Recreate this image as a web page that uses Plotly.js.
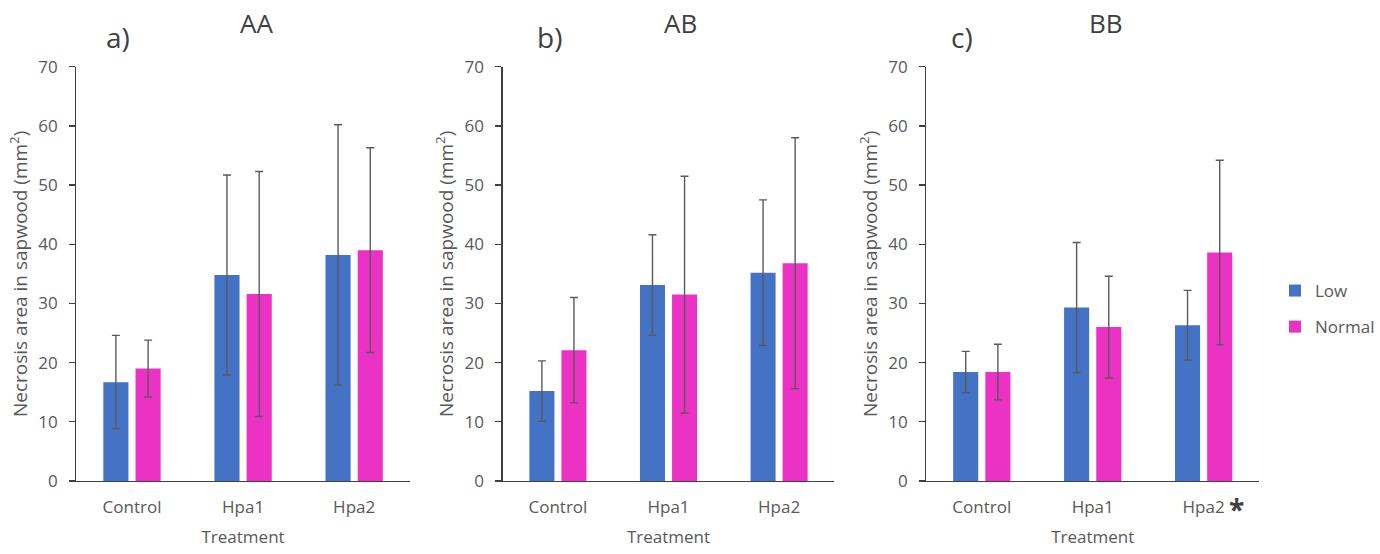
<!DOCTYPE html>
<html>
<head>
<meta charset="utf-8">
<script src="https://cdn.plot.ly/plotly-3.0.1.min.js"></script>
<style>html,body{margin:0;padding:0;background:#fff;}#chart{width:1380px;height:554px;}</style>
</head>
<body>
<div id="chart"></div>
<script>
const categories = ['Control', 'Hpa1', 'Hpa2'];
const seriesNames = ['Low', 'Normal'];
const panelTitles = ['AA', 'AB', 'BB'];
const panelLetters = ['a)', 'b)', 'c)'];

const aaLow = [16.7, 34.8, 38.2];
const aaLowErr = [7.9, 16.9, 22.0];
const aaNormal = [19.0, 31.6, 39.0];
const aaNormalErr = [4.8, 20.7, 17.3];

const abLow = [15.2, 33.1, 35.2];
const abLowErr = [5.1, 8.5, 12.3];
const abNormal = [22.1, 31.5, 36.8];
const abNormalErr = [8.9, 20.0, 21.2];

const bbLow = [18.4, 29.3, 26.3];
const bbLowErr = [3.5, 11.0, 5.9];
const bbNormal = [18.4, 26.0, 38.6];
const bbNormalErr = [4.7, 8.6, 15.6];

const yTicks = [0, 10, 20, 30, 40, 50, 60, 70];

const lowColor = '#4472C4';
const normalColor = '#EC32C4';
const textGray = '#595959';
const FONT = 'Open Sans, Noto Sans, sans-serif';

const panels = [
  {low: aaLow, lowErr: aaLowErr, normal: aaNormal, normalErr: aaNormalErr},
  {low: abLow, lowErr: abLowErr, normal: abNormal, normalErr: abNormalErr},
  {low: bbLow, lowErr: bbLowErr, normal: bbNormal, normalErr: bbNormalErr}
];

const W = 1380, H = 554;
const xDomains = [[76.5, 410], [503, 835], [927, 1260]];
const yTopPx = 66.7, yBotPx = 481;
const yDomain = [1 - yBotPx / H, 1 - yTopPx / H];

const traces = [];
panels.forEach((p, i) => {
  const xa = i === 0 ? 'x' : 'x' + (i + 1);
  const ya = i === 0 ? 'y' : 'y' + (i + 1);
  [[p.low, p.lowErr, lowColor, seriesNames[0]], [p.normal, p.normalErr, normalColor, seriesNames[1]]].forEach(([vals, errs, col, name]) => {
    traces.push({
      type: 'bar', x: categories, y: vals, name: name,
      xaxis: xa, yaxis: ya,
      legendgroup: name, showlegend: i === 0,
      marker: {color: col, line: {width: 0}},
      error_y: {type: 'data', array: errs, visible: true, color: '#5a5a5a', thickness: 1.4, width: 4},
      hoverinfo: 'x+y'
    });
  });
});

const layout = {
  width: W, height: H,
  margin: {l: 0, r: 0, t: 0, b: 0},
  paper_bgcolor: '#fff', plot_bgcolor: '#fff',
  font: {family: FONT, color: textGray, size: 17},
  barmode: 'group', bargap: 0.42, bargroupgap: 0.22,
  showlegend: true,
  legend: {x: 1276 / W, xanchor: 'left', y: 1 - 309 / H, yanchor: 'middle',
           font: {size: 17, color: textGray, family: FONT},
           traceorder: 'grouped', tracegroupgap: 11, itemwidth: 30, bgcolor: 'rgba(0,0,0,0)'},
  annotations: [],
};

panels.forEach((p, i) => {
  const sfx = i === 0 ? '' : String(i + 1);
  const d = xDomains[i];
  layout['xaxis' + sfx] = {
    domain: [d[0] / W, d[1] / W], anchor: 'y' + sfx,
    type: 'category', categoryorder: 'array', categoryarray: categories,
    showline: true, linecolor: '#404040', linewidth: 1.3,
    ticks: '', showgrid: false, zeroline: false,
    ticklabelstandoff: 10,
    tickfont: {size: 17, color: textGray, family: FONT},
    title: {text: 'Treatment', font: {size: 17, color: textGray, family: FONT}, standoff: 14},
    fixedrange: true
  };
  layout['yaxis' + sfx] = {
    domain: yDomain, anchor: 'x' + sfx,
    range: [0, 70], tickvals: yTicks, ticktext: yTicks.map(String),
    showline: true, linecolor: '#404040', linewidth: 1.3,
    ticks: 'outside', ticklen: 6, tickcolor: '#404040', tickwidth: 1.3,
    ticklabelstandoff: 8,
    showgrid: false, zeroline: false,
    tickfont: {size: 17, color: textGray, family: FONT},
    title: {text: 'Necrosis area in sapwood (mm<sup>2</sup>)', font: {size: 19, color: textGray, family: FONT}, standoff: 5},
    fixedrange: true
  };
});

const letterX = [118, 550, 963];
const titleX = [257, 681, 1107];
panels.forEach((p, i) => {
  layout.annotations.push({xref: 'paper', yref: 'paper', x: letterX[i] / W, y: 1 - 37 / H,
    text: panelLetters[i], showarrow: false, xanchor: 'center', yanchor: 'middle',
    font: {size: 28, color: '#404040', family: FONT}});
  layout.annotations.push({xref: 'paper', yref: 'paper', x: titleX[i] / W, y: 1 - 23 / H,
    text: panelTitles[i], showarrow: false, xanchor: 'center', yanchor: 'middle',
    font: {size: 26, color: '#404040', family: FONT}});
});
layout.annotations.push({xref: 'paper', yref: 'paper', x: 1237 / W, y: 1 - 509 / H,
  text: '<b>*</b>', showarrow: false, xanchor: 'center', yanchor: 'middle',
  font: {size: 28, color: '#404040', family: FONT}});

Plotly.newPlot('chart', traces, layout, {displayModeBar: false, staticPlot: true});
</script>
</body>
</html>
